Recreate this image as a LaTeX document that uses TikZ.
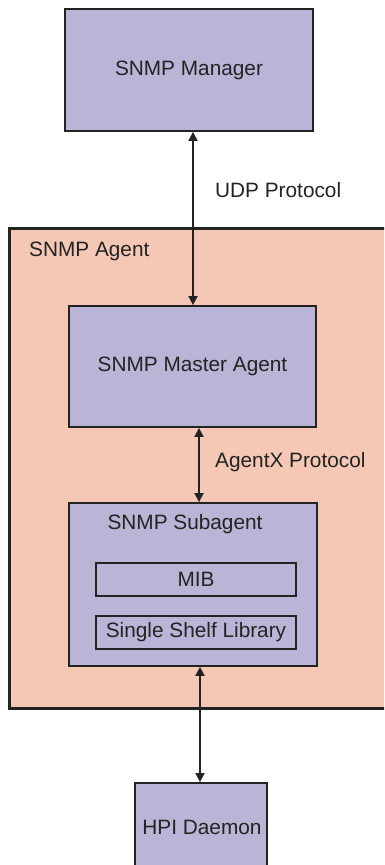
\documentclass[tikz,border=0pt]{standalone}
\usepackage{fontspec}
\setmainfont{Liberation Sans}
\usetikzlibrary{arrows.meta}
\definecolor{lav}{RGB}{186,180,214}
\definecolor{salmon}{RGB}{245,199,181}
\definecolor{ink}{RGB}{35,35,35}
\begin{document}
\begin{tikzpicture}[x=1pt,y=-1pt,
  box/.style={draw=ink,fill=lav,line width=1.8pt,inner sep=0pt,text=ink},
  lbl/.style={text=ink,inner sep=0pt},
  arr/.style={draw=ink,line width=1.8pt,{Triangle[length=9pt,width=9pt]}-{Triangle[length=9pt,width=9pt]}},
  font=\fontsize{20.8}{25}\selectfont]
\useasboundingbox (0,0) rectangle (384,865);
\clip (0,0) rectangle (384,865);
\node[box,minimum width=248pt,minimum height=122pt] (manager) at (189,70) {SNMP Manager};
\node[draw=ink,fill=salmon,line width=3pt,minimum width=390pt,minimum height=480pt,inner sep=0pt] (agent) at (204,468) {};
\node[lbl,anchor=west] (agentlbl) at (29,251) {SNMP Agent};
\node[box,minimum width=247pt,minimum height=121pt] (master) at (192.5,366.5) {SNMP Master Agent};
\node[box,minimum width=248pt,minimum height=163pt] (sub) at (193,584.5) {};
\node[lbl] (sublbl) at (185,524) {SNMP Subagent};
\node[box,minimum width=200pt,minimum height=33pt] (mib) at (196,579.5) {MIB};
\node[box,minimum width=200pt,minimum height=33pt] (shelf) at (196,632.5) {Single Shelf Library};
\node[box,minimum width=132pt,minimum height=120pt] (hpi) at (201,843) {};
\node[lbl] (hpilbl) at (202,827) {HPI Daemon};
\coordinate (xa) at (193,0);
\coordinate (xb) at (199,0);
\coordinate (xc) at (200,0);
\draw[arr] (manager.south -| xa) -- (master.north -| xa);
\draw[arr] (master.south -| xb) -- (sub.north -| xb);
\draw[arr] (sub.south -| xc) -- (hpi.north -| xc);
\node[lbl,anchor=west] (udp) at (215,190) {UDP Protocol};
\node[lbl,anchor=west] (agentx) at (215,462) {AgentX Protocol};
\end{tikzpicture}
\end{document}
